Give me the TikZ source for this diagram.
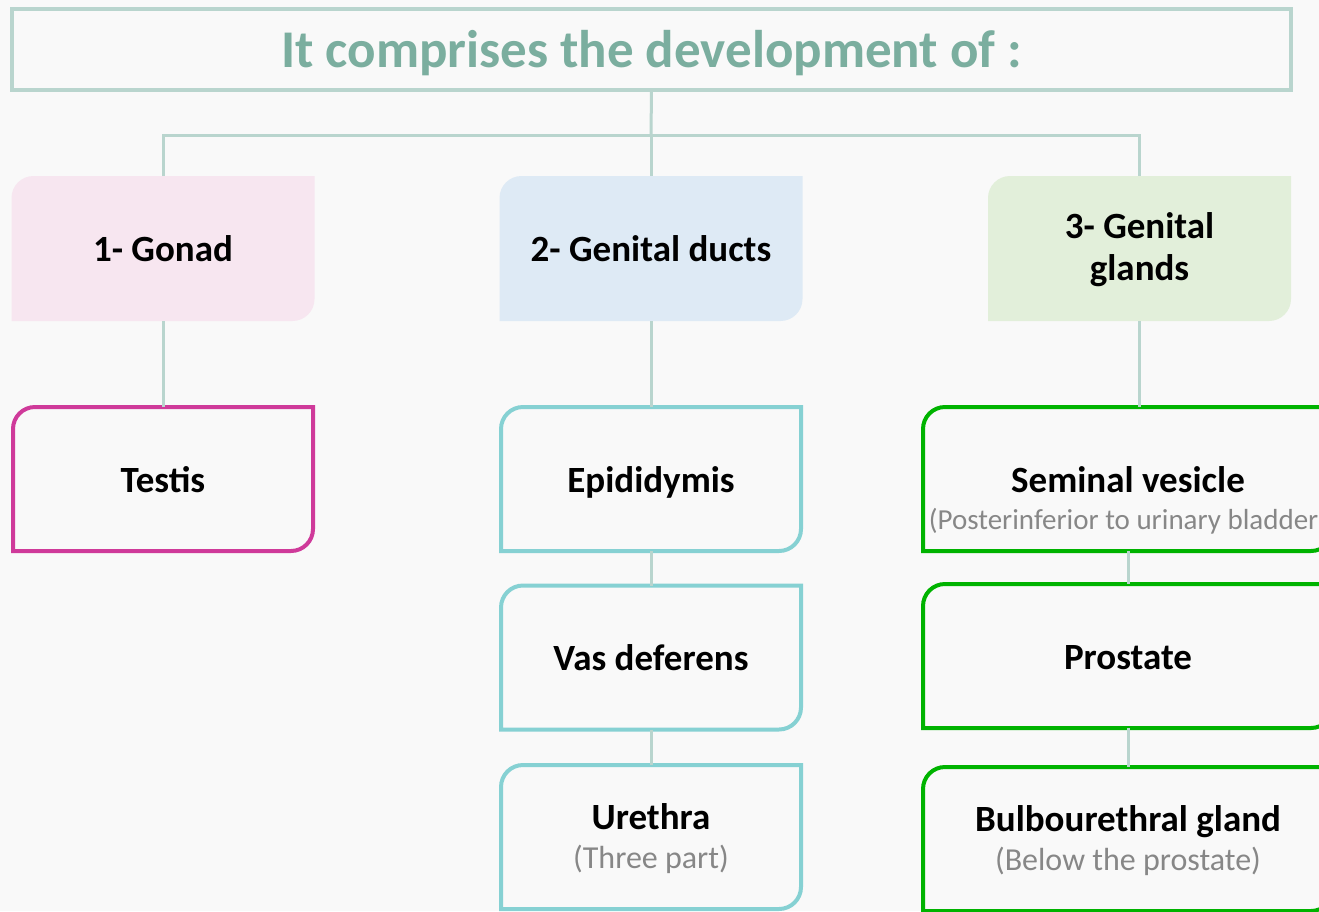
\documentclass[tikz,border=0pt]{standalone}
\usepackage{fontspec}
\setmainfont{Carlito}
\usetikzlibrary{backgrounds}

\definecolor{bgcol}{HTML}{F9F9F9}
\definecolor{linkcol}{HTML}{B9D5CE}
\definecolor{titlecol}{HTML}{7BAE9F}
\definecolor{gonadfill}{HTML}{F7E6F0}
\definecolor{ductfill}{HTML}{DEEAF5}
\definecolor{glandfill}{HTML}{E2EFDA}
\definecolor{testiscol}{HTML}{CF3A9A}
\definecolor{ductcol}{HTML}{86D1D3}
\definecolor{glandcol}{HTML}{00B300}
\definecolor{notecol}{HTML}{878787}

% box with rounded top-left and bottom-right corners
\newcommand{\cutbox}[2]{\path[#2] (#1.north east) -- ([yshift=22pt]#1.south east)
  arc[start angle=0, end angle=-90, radius=22pt] -- (#1.south west)
  -- ([yshift=-22pt]#1.north west) arc[start angle=180, end angle=90, radius=22pt] -- cycle;}
\newcommand{\subtxt}[1]{{\fontsize{32}{39}\selectfont\mdseries\color{notecol}#1}}

\begin{document}
\begin{tikzpicture}[x=1pt, y=1pt,
  box/.style={shape=rectangle, inner sep=0pt, outer sep=0pt, minimum width=300pt,
    minimum height=144pt, align=center, text height=30pt, text depth=4pt,
    font=\fontsize{37}{39}\selectfont\bfseries},
  twoline/.style={text height=66pt, text depth=3pt},
  head/.style={box, minimum width=303pt, minimum height=145pt,
    font=\fontsize{37}{42}\selectfont\bfseries},
  gland/.style={box, minimum width=410pt},
  link/.style={draw=linkcol, line width=3pt}]
\useasboundingbox (0,0) rectangle (1319,-911);

\node[draw=linkcol, line width=3.5pt, inner sep=0pt, outer sep=0pt, minimum width=1279pt,
  minimum height=81pt, text height=40pt, text depth=5pt, text=titlecol,
  font=\fontsize{53}{60}\selectfont\bfseries]
  (title) at (651.5,-49.5) {It comprises the development of :};

\node[head] (gonad) at (163,-248.5) {1- Gonad};
\node[head] (ducts) at (651,-248.5) {2- Genital ducts};
\node[head, twoline] (glands) at (1139.5,-248.5) {3- Genital\\glands};

\node[box] (testis) at (163,-479) {Testis};
\node[box] (epididymis) at (651,-479) {Epididymis};
\node[box] (vas) at (651,-657.5) {Vas deferens};
\node[box, twoline] (urethra) at (651,-837) {Urethra\\\subtxt{(Three part)}};
\node[gland] (seminal) at (1128,-479) {Seminal vesicle};
\node[text=notecol, font=\fontsize{29}{34}\selectfont] (seminalnote) at (1128,-521)
  {(Posterinferior to urinary bladder)};
\node[gland] (prostate) at (1128,-656) {Prostate};
\node[gland, twoline] (bulbo) at (1128,-839) {Bulbourethral gland\\\subtxt{(Below the prostate)}};

\coordinate (hub) at (651,-135);
\draw[link] (title.south) -- (hub);
\draw[link] (hub) -- (ducts.north);
\draw[link] (gonad.north) |- (hub) -| (glands.north);
\draw[link] (gonad.south) -- (testis.north);
\draw[link] (ducts.south) -- (epididymis.north);
\draw[link] (epididymis.south) -- (vas.north);
\draw[link] (vas.south) -- (urethra.north);
\draw[link] (glands.south) -- (glands.south |- seminal.north);
\draw[link] (seminal.south) -- (prostate.north);
\draw[link] (prostate.south) -- (bulbo.north);

\begin{scope}[on background layer]
\fill[bgcol] (0,0) rectangle (1319,-911);
\cutbox{gonad}{fill=gonadfill}
\cutbox{ducts}{fill=ductfill}
\cutbox{glands}{fill=glandfill}
\foreach \n/\c in {testis/testiscol, epididymis/ductcol, vas/ductcol, urethra/ductcol,
  seminal/glandcol, prostate/glandcol, bulbo/glandcol}
  {\cutbox{\n}{draw=\c, line width=4pt}}
\end{scope}
\end{tikzpicture}
\end{document}
